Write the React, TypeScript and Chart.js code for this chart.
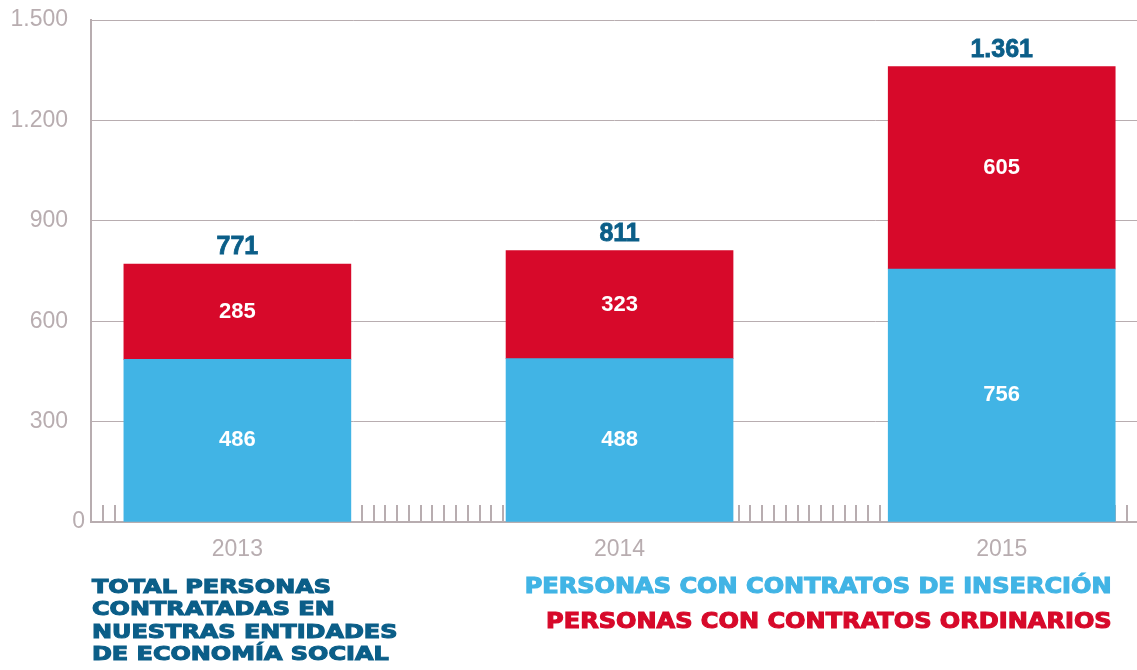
import React, { useEffect, useRef } from 'react';
import { Chart, registerables } from 'chart.js';

Chart.register(...registerables);

const years = ['2013', '2014', '2015'];
const insercion = [486, 488, 756];
const ordinarios = [285, 323, 605];
const totals = [771, 811, 1361];
const yMin = 0;
const yMax = 1500;
const yStep = 300;

const BLUE = '#41b4e5';
const RED = '#d7092a';
const NAVY = '#0b5e88';
const GREY = '#b8adb0';
const FONT = "'Liberation Sans', Arial, Helvetica, sans-serif";

const fmt = (n: number) => String(Math.round(n)).replace(/\B(?=(\d{3})+(?!\d))/g, '.');

const minorTicksPlugin = {
  id: 'minorTicks',
  beforeDatasetsDraw(chart: any) {
    const xm = chart.scales.xm;
    const y = chart.scales.y;
    const ctx = chart.ctx;
    const y0 = y.getPixelForValue(0);
    ctx.save();
    ctx.strokeStyle = GREY;
    ctx.lineWidth = 2;
    for (let v = Math.ceil(xm.min); v <= xm.max; v++) {
      const px = Math.round(xm.getPixelForValue(v));
      ctx.beginPath();
      ctx.moveTo(px, y0);
      ctx.lineTo(px, y0 - 17);
      ctx.stroke();
    }
    ctx.restore();
  },
  afterDraw(chart: any) {
    // zero label sits closer to the axis in the reference
    const y = chart.scales.y;
    const ctx = chart.ctx;
    ctx.save();
    ctx.fillStyle = GREY;
    ctx.font = `23px ${FONT}`;
    ctx.textAlign = 'right';
    ctx.textBaseline = 'middle';
    ctx.fillText(fmt(yMin), chart.chartArea.left - 6, y.getPixelForValue(yMin));
    ctx.restore();
  },
};

const labelsPlugin = {
  id: 'barLabels',
  afterDatasetsDraw(chart: any) {
    const ctx = chart.ctx;
    ctx.save();
    ctx.textAlign = 'center';
    chart.data.datasets.forEach((ds: any, di: number) => {
      const meta = chart.getDatasetMeta(di);
      meta.data.forEach((el: any, i: number) => {
        const v = ds.data[i].y;
        ctx.fillStyle = '#ffffff';
        ctx.font = `bold 22px ${FONT}`;
        ctx.textBaseline = 'middle';
        ctx.fillText(fmt(v), el.x, (el.y + el.base) / 2);
      });
    });
    const topMeta = chart.getDatasetMeta(chart.data.datasets.length - 1);
    topMeta.data.forEach((el: any, i: number) => {
      ctx.fillStyle = NAVY;
      ctx.font = `bold 25px ${FONT}`;
      ctx.textBaseline = 'alphabetic';
      ctx.lineWidth = 0.8;
      ctx.strokeStyle = NAVY;
      ctx.strokeText(fmt(totals[i]), el.x, el.y - 10);
      ctx.fillText(fmt(totals[i]), el.x, el.y - 10);
    });
    ctx.restore();
  },
};

export default function App() {
  const canvasRef = useRef<HTMLCanvasElement | null>(null);

  useEffect(() => {
    if (!canvasRef.current) return;
    const chart = new Chart(canvasRef.current, {
      type: 'bar',
      data: {
        datasets: [
          {
            label: 'Personas con contratos de inserción',
            data: insercion.map((v, i) => ({ x: i, y: v })),
            backgroundColor: BLUE,
            barThickness: 227,
            xAxisID: 'x',
            yAxisID: 'y',
          },
          {
            label: 'Personas con contratos ordinarios',
            data: ordinarios.map((v, i) => ({ x: i, y: v })),
            backgroundColor: RED,
            barThickness: 227,
            xAxisID: 'x',
            yAxisID: 'y',
          },
        ],
      },
      options: {
        animation: false,
        responsive: true,
        maintainAspectRatio: false,
        layout: { padding: { top: 20, left: 0, right: 0, bottom: 0 } },
        plugins: {
          legend: { display: false },
          tooltip: { enabled: false },
        },
        scales: {
          x: {
            type: 'linear',
            position: 'bottom',
            stacked: true,
            offset: false,
            min: -0.383,
            max: 2.354,
            afterBuildTicks: (s: any) => {
              s.ticks = years.map((_, i) => ({ value: i }));
            },
            afterFit: (s: any) => {
              s.height = 148;
            },
            grid: { display: false, drawTicks: false, offset: false },
            border: { display: true, color: GREY, width: 2 },
            ticks: {
              color: GREY,
              font: { family: FONT, size: 23 },
              padding: 14,
              autoSkip: false,
              maxRotation: 0,
              callback: (v: any) => years[v] ?? '',
            },
          },
          xm: {
            type: 'linear',
            position: 'bottom',
            display: false,
            offset: false,
            grid: { offset: false },
            min: 0,
            max: 88.83,
          },
          y: {
            type: 'linear',
            stacked: true,
            min: yMin,
            max: yMax,
            afterFit: (s: any) => {
              s.width = 91;
              s.paddingTop = 0;
              s.paddingBottom = 0;
            },
            grid: { color: GREY, lineWidth: 1, drawTicks: false },
            border: { display: true, color: GREY, width: 2 },
            ticks: {
              stepSize: yStep,
              color: GREY,
              font: { family: FONT, size: 23 },
              padding: 23,
              callback: (v: any) => (Number(v) === yMin ? '' : fmt(Number(v))),
            },
          },
        },
      } as any,
      plugins: [minorTicksPlugin, labelsPlugin],
    });
    return () => chart.destroy();
  }, []);

  const legendCommon: React.CSSProperties = {
    position: 'absolute',
    fontFamily: "'DejaVu Sans', sans-serif",
    fontWeight: 'bold',
    whiteSpace: 'nowrap',
    WebkitTextStroke: '1.1px currentColor',
  } as React.CSSProperties;

  return (
    <div style={{ position: 'absolute', left: 0, top: 0, width: 1137, height: 670, background: '#fff' }}>
      <canvas ref={canvasRef} style={{ position: 'absolute', left: 0, top: 0, width: 1137, height: 670 }} />
      <div
        style={{
          ...legendCommon,
          left: 92,
          top: 575,
          fontSize: 19,
          lineHeight: '22.3px',
          color: NAVY,
          transform: 'scaleX(1.26)',
          transformOrigin: 'left top',
        }}
      >
        <div>TOTAL PERSONAS</div>
        <div>CONTRATADAS EN</div>
        <div>NUESTRAS ENTIDADES</div>
        <div>DE ECONOMÍA SOCIAL</div>
      </div>
      <div
        style={{
          ...legendCommon,
          right: 25,
          top: 568.5,
          fontSize: 21,
          lineHeight: '35px',
          textAlign: 'right',
          transform: 'scaleX(1.145)',
          transformOrigin: 'right top',
        }}
      >
        <div style={{ color: BLUE }}>PERSONAS CON CONTRATOS DE INSERCIÓN</div>
        <div style={{ color: RED }}>PERSONAS CON CONTRATOS ORDINARIOS</div>
      </div>
    </div>
  );
}
